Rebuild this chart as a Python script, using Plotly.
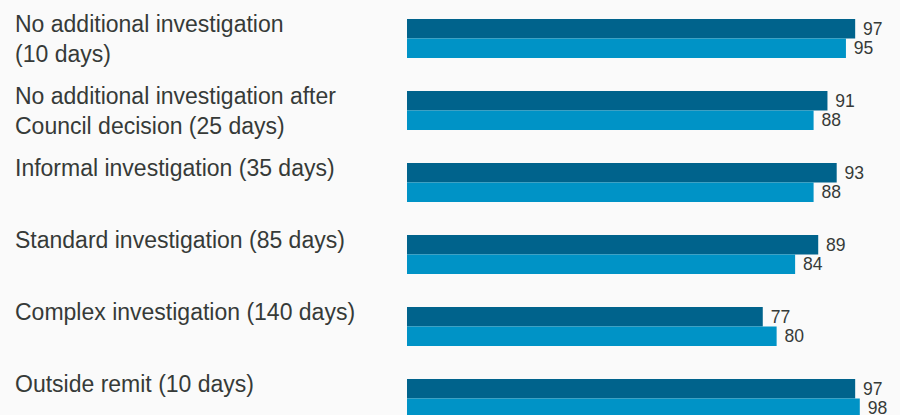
import plotly.graph_objects as go

# Complaint stages with their target turnaround, and the share of cases
# finished within target in each of the two periods.
categories = [
    "No additional investigation\n(10 days)",
    "No additional investigation after\nCouncil decision (25 days)",
    "Informal investigation (35 days)",
    "Standard investigation (85 days)",
    "Complex investigation (140 days)",
    "Outside remit (10 days)",
]
series_names = ["Period 1", "Period 2"]
period1 = [97, 91, 93, 89, 77, 97]
period2 = [95, 88, 88, 84, 80, 98]

dark_blue = "#00638c"
light_blue = "#0093c6"
text_col = "#363a38"
bg = "#fafafa"

fig = go.Figure()
for name, vals, col in [(series_names[0], period1, dark_blue),
                        (series_names[1], period2, light_blue)]:
    fig.add_trace(go.Bar(
        y=categories, x=vals, name=name, orientation="h",
        marker=dict(color=col, line=dict(width=0)),
        text=vals, texttemplate=" %{text}", textposition="outside",
        textfont=dict(family="Liberation Sans, Arial, sans-serif", size=18, color=text_col),
        cliponaxis=False, hoverinfo="skip",
    ))

# Category names drawn at the left, top-aligned with each bar pair
annotations = []
for cat in categories:
    for k, line in enumerate(cat.split("\n")):
        annotations.append(dict(
            xref="paper", x=13 / 900, xanchor="left",
            yref="y", y=cat, yanchor="top",
            yshift=30 - 30 * k,
            text=line, showarrow=False,
            font=dict(family="Liberation Sans, Arial, sans-serif", size=23, color=text_col),
        ))

fig.update_layout(
    width=900, height=415,
    margin=dict(l=0, r=0, t=0, b=0),
    paper_bgcolor=bg, plot_bgcolor=bg,
    barmode="group", bargap=0.458, bargroupgap=0,
    showlegend=False,
    uniformtext=dict(mode=False),
    annotations=annotations,
    xaxis=dict(domain=[407 / 900, 1], range=[0, 106.7], visible=False, fixedrange=True),
    yaxis=dict(range=[(415 - 38.5) / 72, -38.5 / 72], visible=False,
               categoryorder="array", categoryarray=categories, fixedrange=True),
)

fig.write_html("out.html")
